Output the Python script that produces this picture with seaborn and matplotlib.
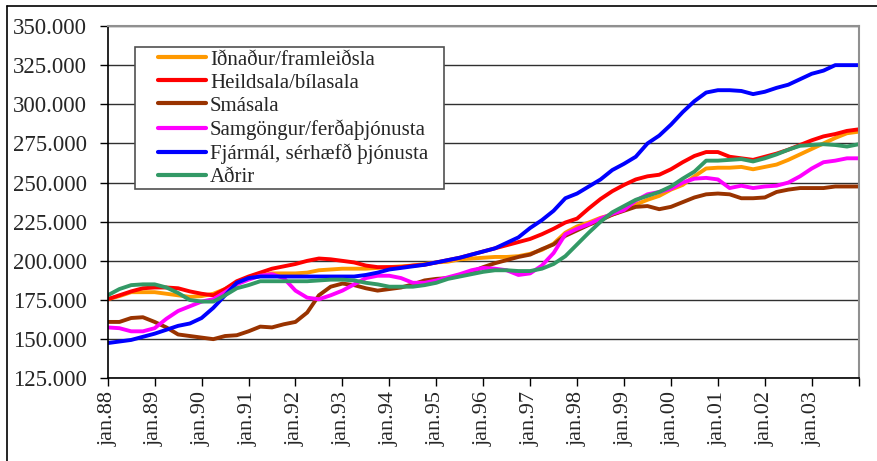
import pandas as pd
import seaborn as sns
import matplotlib.pyplot as plt
from matplotlib.lines import Line2D
from matplotlib.patches import Rectangle
from matplotlib.ticker import FuncFormatter

# months since jan.88 (quarterly readings, last one at jan.04)
months = list(range(0, 192, 3)) + [192]

# values in thousands
idnadur = [175.5, 177.5, 180, 180, 180, 179, 178, 177, 177.5, 179, 182, 186,
           189, 190.5, 192, 192, 192, 192.5, 194, 194.5, 195, 195, 195, 195.5,
           196, 196.5, 197, 198, 199, 199.5, 201, 201.5, 202, 202.5, 202.5, 203,
           204.5, 207, 211, 218, 222, 224.5, 227.5, 229.5, 232.5, 236, 239, 241.5,
           245.5, 248.5, 254, 259, 259.5, 259.5, 260, 258.5, 260, 261.5, 264.5, 268,
           271.5, 275, 278.5, 281.5, 282.5]
heildsala = [175.5, 178, 180.5, 182.5, 183, 183, 182.5, 180.5, 179, 178, 182, 187,
             190, 192.5, 195, 196.5, 198, 200, 201.5, 201, 200, 199, 197, 196,
             196, 196, 197, 197.5, 199, 200.5, 202, 204, 206, 208, 210, 212,
             214, 217, 220.5, 224.5, 227, 233.5, 239.5, 244.5, 248.5, 252, 254, 255,
             258.5, 263, 267, 269.5, 269.5, 266.5, 265.5, 264.5, 266.5, 268.5, 271, 274,
             277, 279.5, 281, 283, 284]
smasala = [161, 161, 163.5, 164, 161, 157.5, 153, 152, 151, 150, 152, 152.5,
           155, 158, 157.5, 159.5, 161, 167, 178, 183.5, 185.5, 184.5, 182.5, 181,
           182, 183, 185, 187.5, 188.5, 189, 190.5, 193, 196, 198.5, 200.5, 202.5,
           204, 207.5, 210.5, 216, 219.5, 223, 226, 229.5, 232, 234.5, 235, 233,
           234.5, 237.5, 240.5, 242.5, 243, 242.5, 240, 240, 240.5, 244, 245.5, 246.5,
           246.5, 246.5, 247.5, 247.5, 247.5]
samgongur = [157.5, 157, 155, 155, 157, 163, 168, 171, 174, 175.5, 180, 185,
             188, 190.5, 191.5, 189, 181, 176.5, 175.5, 178, 181, 185, 189, 190.5,
             190.5, 189, 186, 186, 187.5, 189.5, 191.5, 194, 195.5, 195, 194, 191,
             192, 197, 205, 217, 220.5, 223.5, 227, 230, 232.5, 238.5, 242.5, 244,
             246, 250, 252.5, 253, 252, 246.5, 248, 246.5, 247.5, 248, 250, 254,
             259, 263, 264, 265.5, 265.5]
fjarmal = [147.5, 148.5, 149.5, 151.5, 153.5, 156, 158.5, 160, 163.5, 170, 178, 186,
           189, 190, 190, 190, 190, 190, 190, 190, 190, 190, 191, 192.5,
           194.5, 195.5, 196.5, 197.5, 199, 200.5, 202, 204, 206, 208, 211.5, 215,
           221, 226, 232, 240, 243, 247.5, 252, 258, 262, 266.5, 275, 280,
           287, 295, 302, 307.5, 309, 309, 308.5, 306.5, 308, 310.5, 312.5, 316,
           319.5, 321.5, 325, 325, 325]
adrir = [178, 182, 184.5, 185, 185, 183, 179.5, 175, 174, 174, 178, 182.5,
         184.5, 187, 187, 187, 187, 187, 187.5, 188, 188, 187.5, 186, 185,
         183.5, 183.5, 183.5, 184.5, 186, 188.5, 190, 191.5, 193, 194, 194, 193.5,
         193.5, 195, 198, 203, 210.5, 218, 225, 231, 235, 239, 241.5, 244,
         247.5, 252.5, 257, 264, 264, 264.5, 265, 263.5, 265.5, 268, 271, 273.5,
         274, 274.5, 274, 273, 274.5]

series = {
    'Iðnaður/framleiðsla': idnadur,
    'Heildsala/bílasala': heildsala,
    'Smásala': smasala,
    'Samgöngur/ferðaþjónusta': samgongur,
    'Fjármál, sérhæfð þjónusta': fjarmal,
    'Aðrir': adrir,
}
colors = ['#FF9900', '#FF0000', '#993300', '#FF00FF', '#0000FF', '#339966']

tick_months = list(range(0, 192, 12))
tick_labels = ['jan.%02d' % (y % 100) for y in range(1988, 2004)]

frames = [pd.DataFrame({'month': months, 'value': v, 'sector': k}) for k, v in series.items()]
df = pd.concat(frames, ignore_index=True)

sns.set_style('white')
plt.rcParams['font.family'] = ['Liberation Serif', 'DejaVu Serif']

fig = plt.figure(figsize=(8.77, 4.61), dpi=100)
ax = fig.add_axes([107.7 / 877, 1 - 378.3 / 461, 751 / 877, 352.3 / 461])

sns.lineplot(data=df, x='month', y='value', hue='sector',
             palette=dict(zip(series.keys(), colors)), linewidth=2.8, ax=ax)

ax.set_xlim(0, 192)
ax.set_ylim(125, 350)
ax.set_yticks(range(125, 351, 25))
ax.yaxis.set_major_formatter(FuncFormatter(lambda v, p: f"{v * 1000:,.0f}".replace(',', '.')))
ax.set_xticks(tick_months + [192])
ax.set_xticklabels(tick_labels + [''], rotation=90)
ax.set_xlabel('')
ax.set_ylabel('')

ax.grid(axis='y', color='#303030', linewidth=1)
ax.grid(axis='x', visible=False)
ax.set_axisbelow(True)

ax.tick_params(axis='y', left=True, length=6, width=1, color='black', pad=9, labelsize=16.5)
ax.tick_params(axis='x', bottom=True, length=6, width=1, color='black', pad=3, labelsize=16)
for s in ['left', 'bottom']:
    ax.spines[s].set_color('black')
    ax.spines[s].set_linewidth(1.2)
for s in ['top', 'right']:
    ax.spines[s].set_color('#909090')
    ax.spines[s].set_linewidth(1.5)

# legend
handles, labels = ax.get_legend_handles_labels()
for h in handles:
    h.set_linewidth(3)
ax.legend(handles, labels, loc='upper left', bbox_to_anchor=(0.067, 0.932),
          frameon=False, fontsize=15, handlelength=2.3, handletextpad=0.2,
          labelspacing=0.17, borderpad=0, borderaxespad=0)
ax.add_patch(Rectangle((0.0364, 0.537), 0.411, 0.403, transform=ax.transAxes,
                       facecolor='white', edgecolor='#505050', linewidth=1.2, zorder=4))
ax.get_legend().set_zorder(5)

# outer chart border
fig.add_artist(Line2D([7 / 877, 7 / 877], [0, 1 - 6 / 461], transform=fig.transFigure, color='black', lw=1.2))
fig.add_artist(Line2D([7 / 877, 1], [1 - 6 / 461, 1 - 6 / 461], transform=fig.transFigure, color='black', lw=1.2))

fig.savefig('out.png', dpi=100)
